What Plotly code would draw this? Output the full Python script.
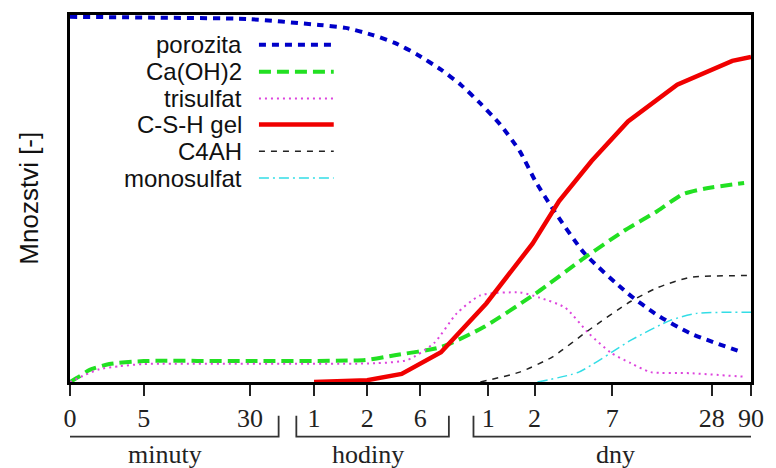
import plotly.graph_objects as go

# x positions on a positional (non-linear time) axis, tick labels below
tick_pos = [0, 75, 183, 248, 302, 356, 425, 472, 551, 652, 692]
tick_text = ["0", "5", "30", "1", "2", "6", "1", "2", "7", "28", "90"]

por_x = [0, 80, 180, 253, 280, 307, 330, 353, 377, 397, 417, 437, 457, 473, 492, 523, 567, 597, 630, 683]
por_y = [0.995, 0.993, 0.989, 0.973, 0.965, 0.946, 0.924, 0.892, 0.851, 0.810, 0.759, 0.702, 0.629, 0.547,
         0.466, 0.350, 0.241, 0.182, 0.133, 0.081]

ca_x = [0, 10, 20, 40, 75, 180, 300, 330, 377, 420, 473, 523, 563, 597, 623, 647, 685]
ca_y = [0.0, 0.016, 0.033, 0.049, 0.057, 0.057, 0.060, 0.073, 0.095, 0.149, 0.241, 0.339, 0.412, 0.466,
        0.512, 0.528, 0.542]

tri_x = [0, 15, 30, 50, 75, 310, 343, 370, 393, 417, 457, 477, 503, 527, 550, 570, 590, 630, 687]
tri_y = [0.0, 0.019, 0.035, 0.043, 0.049, 0.051, 0.060, 0.106, 0.187, 0.236, 0.244, 0.230, 0.203, 0.133,
         0.079, 0.051, 0.027, 0.024, 0.014]

csh_x = [248, 302, 337, 377, 423, 470, 497, 530, 567, 617, 673, 692]
csh_y = [0.0, 0.005, 0.022, 0.081, 0.214, 0.377, 0.493, 0.602, 0.710, 0.810, 0.875, 0.886]

c4_x = [417, 457, 490, 527, 570, 597, 630, 692]
c4_y = [0.0, 0.027, 0.068, 0.141, 0.220, 0.257, 0.285, 0.290]

mono_x = [475, 517, 570, 610, 637, 692]
mono_y = [0.0, 0.027, 0.114, 0.168, 0.187, 0.190]

names = ["porozita", "Ca(OH)2", "trisulfat", "C-S-H gel", "C4AH", "monosulfat"]
colors = ["#0000c8", "#22e022", "#dd44dd", "#f00000", "#222222", "#33dde6"]
widths = [4, 4, 2, 4.5, 1.5, 1.5]
dashes = ["7px,6px", "12px,6px", "2px,4px", "solid", "6px,6px", "10px,4px,2px,4px"]
shapes_line = ["spline", "spline", "spline", "linear", "spline", "spline"]
series = [(por_x, por_y), (ca_x, ca_y), (tri_x, tri_y), (csh_x, csh_y), (c4_x, c4_y), (mono_x, mono_y)]

# bracket groups below the axis
groups = ["minuty", "hodiny", "dny"]
group_start = [-12, 230, 410]
group_end = [212, 385, 720]
group_center = [97, 303, 554]

fig = go.Figure()
for (xs, ys), n, c, w, d, s in zip(series, names, colors, widths, dashes, shapes_line):
    fig.add_trace(go.Scatter(x=xs, y=ys, mode="lines", name=n, showlegend=False,
                             line=dict(color=c, width=w, dash=d, shape=s, smoothing=0.6)))

W, H = 776, 468
ml, mr, mt, mb = 70, 14, 13, 86
pw, ph = W - ml - mr, H - mt - mb

def py2paper(py):
    return (H - mb - py) / ph

def px2paper(px):
    return (px - ml) / pw

shapes = []
annotations = []
# manual legend: text on left, sample on right
row_y = [43, 70, 97, 123, 150, 177]
for n, c, w, d, ry in zip(names, colors, widths, dashes, row_y):
    annotations.append(dict(text=n, xref="paper", yref="paper", x=px2paper(247), y=py2paper(ry),
                            xanchor="right", yanchor="middle", showarrow=False,
                            font=dict(family="Liberation Sans, Arial", size=24, color="#111")))
    shapes.append(dict(type="line", xref="paper", yref="paper",
                       x0=px2paper(262), x1=px2paper(338), y0=py2paper(ry), y1=py2paper(ry),
                       line=dict(color=c, width=w, dash=d)))

# brackets
for g, x0, x1, xc in zip(groups, group_start, group_end, group_center):
    y_top = py2paper(416)
    y_bot = py2paper(437)
    shapes.append(dict(type="path", xref="x", yref="paper",
                       path=f"M {x0},{y_top} L {x0},{y_bot} L {x1},{y_bot} L {x1},{y_top}",
                       line=dict(color="#333", width=1.8)))
    annotations.append(dict(text=g, xref="x", yref="paper", x=xc, y=py2paper(455),
                            xanchor="center", yanchor="middle", showarrow=False,
                            font=dict(family="Liberation Serif, Times New Roman", size=26, color="#222")))

annotations.append(dict(text="Mnozstvi [-]", xref="paper", yref="paper", x=px2paper(28), y=py2paper(197),
                        textangle=-90, xanchor="center", yanchor="middle", showarrow=False,
                        font=dict(family="Liberation Sans, Arial", size=26, color="#111")))

fig.update_layout(
    width=W, height=H, margin=dict(l=ml, r=mr, t=mt, b=mb),
    plot_bgcolor="white", paper_bgcolor="white",
    shapes=shapes, annotations=annotations,
    xaxis=dict(range=[0, 692], tickvals=tick_pos, ticktext=tick_text, ticks="outside", ticklen=11,
               tickwidth=2, tickcolor="#222", showgrid=False, zeroline=False, showline=True,
               linecolor="black", linewidth=3, mirror=True,
               tickfont=dict(family="Liberation Serif, Times New Roman", size=26, color="#222")),
    yaxis=dict(range=[0, 1], showticklabels=False, ticks="", showgrid=False, zeroline=False,
               showline=True, linecolor="black", linewidth=3, mirror=True),
)

fig.write_html("out.html")
